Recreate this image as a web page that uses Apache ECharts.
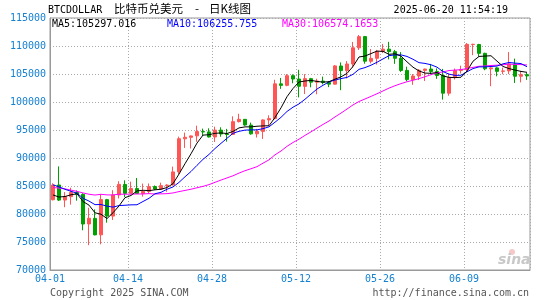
<!DOCTYPE html>
<html>
<head>
<meta charset="utf-8">
<script src="https://cdn.jsdelivr.net/npm/echarts@6/dist/echarts.min.js"></script>
<style>
  html, body { margin: 0; padding: 0; background: #fff; }
  #box { width: 545px; height: 300px; }
</style>
</head>
<body>
<div id="box"></div>
<script>
// trading days shown on the chart
var dates = [
  '04-01','04-02','04-03','04-04','04-05','04-06','04-07','04-08','04-09','04-10',
  '04-11','04-12','04-13','04-14','04-15','04-16','04-17','04-18','04-19','04-20',
  '04-21','04-22','04-23','04-24','04-25','04-26','04-27','04-28','04-29','04-30',
  '05-01','05-02','05-03','05-04','05-05','05-06','05-07','05-08','05-09','05-10',
  '05-11','05-12','05-13','05-14','05-15','05-16','05-17','05-18','05-19','05-20',
  '05-21','05-22','05-23','05-24','05-25','05-26','05-27','05-28','05-29','05-30',
  '05-31','06-01','06-02','06-03','06-04','06-05','06-06','06-07','06-08','06-09',
  '06-10','06-11','06-12','06-13','06-14','06-15','06-16','06-17','06-18','06-19'
];
var opens = [
  82551,85180,82487,83100,83844,83504,78221,79218,76273,82565,
  79625,83404,85279,83694,84539,83675,84031,84900,84450,85066,
  85171,87521,93427,93692,93954,94714,94660,93755,94981,94286,
  94216,96494,96905,95878,94319,94749,96800,97035,103239,102973,
  104702,104107,102791,104168,103539,103735,103489,103186,106430,105605,
  106791,109673,111679,107278,107803,109023,109440,108993,107802,105646,
  103994,104637,105649,105882,105433,104732,101574,104390,105617,105793,
  110250,110261,108686,105924,106090,105472,105555,106795,104600,104886
];
var highs = [
  85487,88500,83910,84696,84207,83705,81120,80823,83541,82700,
  84247,85856,86015,85785,86429,85428,85449,85095,85597,85306,
  88460,93817,94536,94016,95768,95251,95299,95598,95485,95200,
  97438,97896,96943,96318,95193,96889,97625,103969,104297,104984,
  104937,105747,104977,104303,104153,104533,103717,106597,107068,107307,
  110724,111970,111798,109454,109313,110376,110744,109298,108910,106308,
  104999,105891,105942,106795,106000,105910,105073,105972,106485,110530,
  110400,110384,108803,106182,106209,106128,108915,107750,105548,105250
];
var lows = [
  82429,82321,81211,81670,82377,77097,74436,76198,74589,78456,
  78936,82769,83027,83690,83598,83100,83749,84299,84353,83977,
  85144,87084,91795,91696,92898,93927,93665,92860,93796,92920,
  94137,96350,95753,94173,93655,93409,95830,96913,102344,102818,
  103346,100814,101429,102618,101383,103137,102659,103142,102112,104206,
  106127,109285,106841,106895,106683,108735,107609,106812,105374,103685,
  103068,103910,103755,104945,104136,100422,101124,104016,105094,105344,
  108361,108103,105671,102822,104589,104964,104982,103400,103500,103950
];
var closes = [
  85169,82485,83102,83843,83504,78214,79235,76271,82573,79626,
  83404,85287,83684,84542,83668,84033,84895,84450,85063,85174,
  87518,93441,93699,93943,94720,94646,93754,94978,94284,94207,
  96492,96910,95891,94315,94748,96802,97032,103241,102971,104696,
  104107,102812,104169,103539,103744,103489,103191,106446,105606,106791,
  109678,111673,107288,107791,109035,109440,108994,107802,105641,103998,
  104639,105652,105882,105432,104732,101576,104390,105616,105793,110295,
  110300,108686,105929,106090,105472,105552,106796,104601,104883,104660
];
// closes of the 29 days before the window (estimated so the MA lines start where the picture shows them)
var prevCloses = [
  86124,87222,90623,89962,86742,86154,80601,78532,82862,83722,
  81066,83969,84344,82580,84075,82718,86854,84167,84044,83832,
  86054,87499,87471,86900,87177,84353,82597,82334,82548
];
var yTicks = [70000, 115000, 5000];

var allCloses = prevCloses.concat(closes);
function calcMA(n) {
  var out = [];
  for (var i = 0; i < closes.length; i++) {
    var end = i + prevCloses.length;
    var sum = 0;
    for (var j = end - n + 1; j <= end; j++) sum += allCloses[j];
    out.push(+(sum / n).toFixed(2));
  }
  return out;
}

var kData = dates.map(function (d, i) {
  return [opens[i], closes[i], lows[i], highs[i]];
});

var mono = 'DejaVu Sans Mono';
var blue = '#1581d1';
var showIdx = function (i) { return i % 14 === 13; };

var chart = echarts.init(document.getElementById('box'));
var option = {
  animation: false,
  backgroundColor: '#fff',
  grid: { left: 50, right: 15, top: 18, bottom: 30, show: true, borderColor: '#999', borderWidth: 1 },
  xAxis: {
    type: 'category',
    data: dates,
    boundaryGap: true,
    axisLine: { lineStyle: { color: '#999', width: 1 } },
    axisTick: { show: false },
    axisLabel: {
      interval: function (i) { return i === 0 || showIdx(i); },
      color: blue, fontFamily: mono, fontSize: 10, margin: 4,
      padding: [0, 6, 0, 0]
    },
    splitLine: {
      show: true,
      interval: function (i) { return showIdx(i); },
      lineStyle: { color: '#aaa', type: [1, 2], width: 1 }
    }
  },
  yAxis: {
    type: 'value',
    min: yTicks[0], max: yTicks[1], interval: yTicks[2],
    axisLine: { show: true, lineStyle: { color: '#999' } },
    axisTick: { show: false },
    axisLabel: {
      color: blue, fontFamily: mono, fontSize: 10, margin: 4,
      formatter: function (v) { return String(v); }
    },
    splitLine: { lineStyle: { color: '#aaa', type: [1, 2], width: 1 } }
  },
  series: [
    {
      type: 'candlestick',
      data: kData,
      barWidth: 4,
      itemStyle: {
        color: '#ff5555', color0: '#00a000',
        borderColor: '#ff5555', borderColor0: '#00a000', borderWidth: 1
      }
    },
    { type: 'line', data: calcMA(30), symbol: 'none', lineStyle: { color: '#ff00ff', width: 1 } },
    { type: 'line', data: calcMA(10), symbol: 'none', lineStyle: { color: '#0000ff', width: 1 } },
    { type: 'line', data: calcMA(5), symbol: 'none', lineStyle: { color: '#000', width: 1 } }
  ],
  graphic: [
    { type: 'text', left: 48, top: 5, style: { text: 'BTCDOLLAR', font: '10px "DejaVu Sans Mono"', fill: '#000' } },
    { type: 'text', left: 114, top: 3, style: { text: '比特币兑美元', font: '11.5px "Noto Sans CJK SC"', fill: '#000' } },
    { type: 'text', left: 195, top: 3, style: { text: '-', font: '11.5px "Noto Sans CJK SC"', fill: '#000' } },
    { type: 'text', left: 209, top: 3, style: { text: '日K线图', font: '11.5px "Noto Sans CJK SC"', fill: '#000' } },
    { type: 'text', right: 37, top: 5, style: { text: '2025-06-20 11:54:19', font: '10px "DejaVu Sans Mono"', fill: '#000' } },
    { type: 'text', left: 52, top: 19, style: { text: 'MA5:105297.016', font: '10px "DejaVu Sans Mono"', fill: '#000' } },
    { type: 'text', left: 167, top: 19, style: { text: 'MA10:106255.755', font: '10px "DejaVu Sans Mono"', fill: '#0000ff' } },
    { type: 'text', left: 282, top: 19, style: { text: 'MA30:106574.1653', font: '10px "DejaVu Sans Mono"', fill: '#ff00ff' } },
    { type: 'circle', shape: { cx: 512, cy: 252, r: 3 }, style: { fill: '#f6c8c8' } },
    { type: 'text', left: 498, top: 253, style: { text: 'sina', font: 'italic bold 14px "DejaVu Sans"', fill: '#c8c8c8' } },
    { type: 'text', left: 50, top: 288, style: { text: 'Copyright 2025 SINA.COM', font: '10px "DejaVu Sans Mono"', fill: '#555' } },
    { type: 'text', right: 16, top: 288, style: { text: 'http://finance.sina.com.cn', font: '10px "DejaVu Sans Mono"', fill: '#555' } }
  ]
};
chart.setOption(option);
</script>
</body>
</html>
